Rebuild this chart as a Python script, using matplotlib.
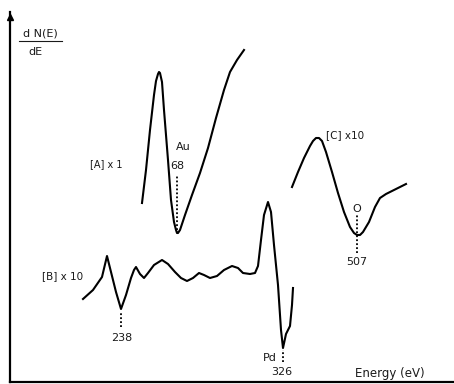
import matplotlib
matplotlib.use("Agg")
import matplotlib.pyplot as plt

# Spectres Auger (x : position sur l'axe énergie, y : signal dN(E)/dE)
a_x = [142, 146, 150, 154, 156, 158, 159, 160, 162, 164, 168, 171, 174, 176,
       177, 178, 180, 185, 192, 200, 208, 216, 224, 230, 237, 244]
a_y = [181, 214, 254, 289, 303, 310, 312, 311, 302, 274, 224, 184, 162, 154,
       151, 151, 154, 169, 189, 211, 236, 266, 294, 312, 324, 334]

b_x = [83, 93, 102, 107, 111, 116, 121, 126, 131, 134, 136, 140, 144, 148, 154,
       162, 168, 175, 181, 187, 193, 199, 204, 210, 217, 224, 232, 238, 243, 250,
       255, 258, 261, 264, 268, 271, 274, 278, 281, 283, 286, 290, 292, 293]
b_y = [85, 94, 107, 128, 112, 92, 75, 89, 106, 114, 117, 110, 106, 111, 119,
       124, 120, 112, 106, 103, 106, 111, 109, 106, 108, 114, 118, 116, 111, 110,
       111, 118, 144, 169, 182, 172, 139, 99, 54, 36, 50, 58, 79, 96]

c_x = [292, 298, 304, 310, 313, 316, 319, 322, 326, 332, 338, 344, 350, 354,
       357, 360, 363, 369, 375, 380, 386, 394, 400, 406]
c_y = [197, 212, 226, 238, 243, 246, 246, 243, 232, 212, 191, 172, 157, 151,
       149, 149, 152, 162, 177, 186, 190, 194, 197, 200]

# Pics repérés : (x, y bas, y haut)
pics = [
    (177, 154, 209),  # Au 68
    (121, 57, 71),    # 238
    (283, 22, 34),    # Pd 326
    (357, 131, 170),  # O 507
]

fig = plt.figure(figsize=(4.54, 3.84), dpi=100)
ax = fig.add_axes([10 / 454, 2 / 384, 444 / 454, 370 / 384])
ax.set_xlim(10, 454)
ax.set_ylim(2, 372)

for xs, ys in [(a_x, a_y), (b_x, b_y), (c_x, c_y)]:
    ax.plot(xs, ys, color="black", linewidth=1.5, solid_joinstyle="round")

for x, y0, y1 in pics:
    ax.plot([x, x], [y0, y1], color="black", linestyle=(0, (1, 1.2)), linewidth=1.3)

tc = "#1a1a1a"
fs = 8
ax.text(177, 218, "68", ha="center", va="center", fontsize=fs, color=tc)
ax.text(183, 237, "Au", ha="center", va="center", fontsize=fs, color=tc)
ax.text(122, 46, "238", ha="center", va="center", fontsize=fs, color=tc)
ax.text(270, 26, "Pd", ha="center", va="center", fontsize=fs, color=tc)
ax.text(282, 12, "326", ha="center", va="center", fontsize=fs, color=tc)
ax.text(357, 175, "O", ha="center", va="center", fontsize=fs, color=tc)
ax.text(357, 122, "507", ha="center", va="center", fontsize=fs, color=tc)

ax.text(122, 220, "[A] x 1", ha="right", va="center", fontsize=7, color=tc)
ax.text(83, 108, "[B] x 10", ha="right", va="center", fontsize=7.5, color=tc)
ax.text(326, 249, "[C] x10", ha="left", va="center", fontsize=7.5, color=tc)

ax.text(390, 11, "Energy (eV)", ha="center", va="center", fontsize=8.5, color=tc)

# Libellé de l'axe vertical : dN(E)/dE
ax.text(40, 351, "d N(E)", ha="center", va="center", fontsize=8, color=tc)
ax.plot([19, 62], [343, 343], color=tc, linewidth=0.8)
ax.text(35, 332, "dE", ha="center", va="center", fontsize=8, color=tc)

# Axes : gauche avec flèche, bas
ax.spines["top"].set_visible(False)
ax.spines["right"].set_visible(False)
ax.spines["left"].set_linewidth(1.6)
ax.spines["bottom"].set_linewidth(1.6)
ax.set_xticks([])
ax.set_yticks([])
ax.plot(10, 367, marker="^", markersize=5, color="black", clip_on=False)

fig.savefig("out.png", dpi=100)
